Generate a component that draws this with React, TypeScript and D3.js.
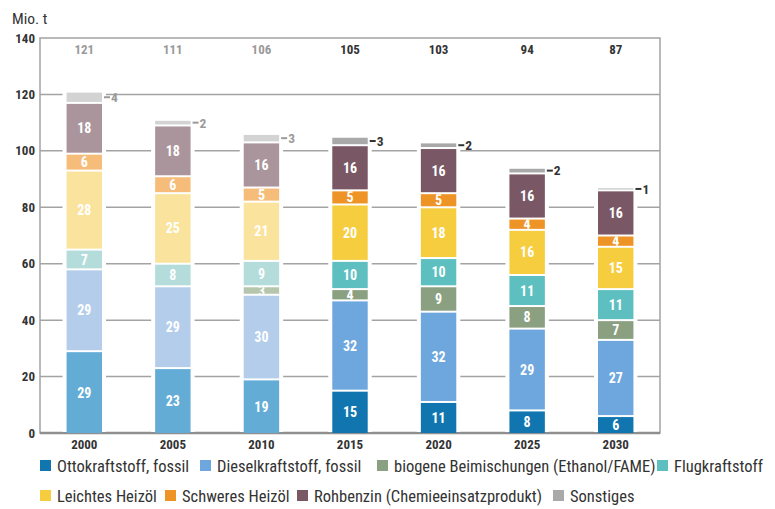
import React, { useEffect, useRef } from 'react';
import * as d3 from 'd3';

const YEARS = ['2000', '2005', '2010', '2015', '2020', '2025', '2030'];
// first three years are historic values (drawn faded)
const HISTORIC = [true, true, true, false, false, false, false];

const SERIES = [
  'Ottokraftstoff, fossil',
  'Dieselkraftstoff, fossil',
  'biogene Beimischungen (Ethanol/FAME)',
  'Flugkraftstoff',
  'Leichtes Heizöl',
  'Schweres Heizöl',
  'Rohbenzin (Chemieeinsatzprodukt)',
  'Sonstiges',
];

const OTTO = [29, 23, 19, 15, 11, 8, 6];
const DIESEL = [29, 29, 30, 32, 32, 29, 27];
const BIO = [0, 0, 3, 4, 9, 8, 7];
const FLUG = [7, 8, 9, 10, 10, 11, 11];
const LEICHT = [28, 25, 21, 20, 18, 16, 15];
const SCHWER = [6, 6, 5, 5, 5, 4, 4];
const ROHBENZIN = [18, 18, 16, 16, 16, 16, 16];
const SONSTIGES = [4, 2, 3, 3, 2, 2, 1];
const TOTALS = [121, 111, 106, 105, 103, 94, 87];

const Y_TICKS = [0, 20, 40, 60, 80, 100, 120, 140];

const COLORS = ['#1176b0', '#6ea7de', '#8aa080', '#5ebfc0', '#f6cd3e', '#ee9426', '#7a5765', '#a9a9a9'];
const COLORS_FADED = ['#62acd6', '#b4cdeb', '#b6c6ad', '#b3dcdb', '#fae39c', '#f6bd7a', '#ab959c', '#d3d3d3'];

// legend rows: series index + left edge of the swatch
const LEGEND_ROWS = [
  [[0, 40], [1, 200], [2, 377], [3, 657]],
  [[4, 40], [5, 165], [6, 297], [7, 553]],
];

const FONT = '"Liberation Sans Narrow", "Arial Narrow", "Roboto Condensed", Roboto, sans-serif';

export default function App() {
  const svgRef = useRef<SVGSVGElement>(null);
  const W = 775, H = 509;
  const L = 40, R = 660, T = 38, B = 433;

  useEffect(() => {
    const svg = d3.select(svgRef.current);
    svg.selectAll('*').remove();
    svg.attr('font-family', FONT);

    const seriesVals = [OTTO, DIESEL, BIO, FLUG, LEICHT, SCHWER, ROHBENZIN, SONSTIGES];
    const rows = YEARS.map((yr, i) => {
      const r: any = { year: yr, i };
      SERIES.forEach((s, k) => { r[s] = seriesVals[k][i]; });
      return r;
    });
    const stacked = d3.stack().keys(SERIES)(rows);

    const x = d3.scaleBand().domain(YEARS).range([L, R]).paddingInner(0.6).paddingOuter(0.3);
    const y = d3.scaleLinear().domain([0, 140]).range([B, T]);
    const bw = x.bandwidth();

    // unit label
    svg.append('text').attr('x', 12).attr('y', 24).attr('font-size', 15.5).attr('fill', '#333').text('Mio. t');

    // Grid
    svg.append('g').selectAll('line').data(Y_TICKS.filter(t => t > 0 && t < 140)).join('line')
      .attr('x1', L).attr('x2', R).attr('y1', d => y(d)).attr('y2', d => y(d))
      .attr('stroke', '#a3a3a3').attr('stroke-width', 1.5);
    // Frame
    svg.append('rect').attr('x', L).attr('y', T).attr('width', R - L).attr('height', B - T)
      .attr('fill', 'none').attr('stroke', '#a3a3a3').attr('stroke-width', 1.5);
    svg.append('line').attr('x1', L).attr('x2', R).attr('y1', B).attr('y2', B)
      .attr('stroke', '#8f8f8f').attr('stroke-width', 2.5);

    // Y labels
    svg.append('g').selectAll('text').data(Y_TICKS).join('text')
      .attr('x', 35).attr('y', d => y(d)).attr('dy', '0.35em').attr('text-anchor', 'end')
      .attr('font-size', 13).attr('font-weight', 'bold').attr('fill', '#333').text(d => d);

    // X labels
    svg.append('g').selectAll('text').data(YEARS).join('text')
      .attr('x', d => (x(d) as number) + bw / 2).attr('y', 449).attr('text-anchor', 'middle')
      .attr('font-size', 13).attr('font-weight', 'bold').attr('fill', '#333').text(d => d);

    // White knockout behind bars so gridlines stop short of them
    svg.append('g').selectAll('rect').data(YEARS).join('rect')
      .attr('x', d => (x(d) as number) - 4).attr('width', bw + 8)
      .attr('y', (d, i) => y(TOTALS[i]) - 2).attr('height', (d, i) => B - y(TOTALS[i]) + 1)
      .attr('fill', '#fff');

    const defs = svg.append('defs');
    const bars = svg.append('g');
    stacked.forEach((layer, k) => {
      layer.forEach((seg, i) => {
        const v = seg[1] - seg[0];
        if (v <= 0) return;
        const x0 = x(YEARS[i]) as number;
        const yTop = y(seg[1]) + 1;
        const h = Math.max(0, y(seg[0]) - y(seg[1]) - (k === 0 ? 1 : 2));
        const fill = HISTORIC[i] ? COLORS_FADED[k] : COLORS[k];
        bars.append('rect').attr('x', x0).attr('y', yTop).attr('width', bw).attr('height', h).attr('fill', fill);
        if (k < SERIES.length - 1) {
          const id = `clip-${k}-${i}`;
          defs.append('clipPath').attr('id', id).append('rect')
            .attr('x', x0).attr('y', yTop).attr('width', bw).attr('height', h);
          bars.append('text').attr('clip-path', `url(#${id})`)
            .attr('x', x0 + bw / 2).attr('y', yTop + h / 2).attr('dy', '0.36em')
            .attr('text-anchor', 'middle').attr('font-size', 14).attr('font-weight', 'bold')
            .attr('fill', '#fff').text(v);
        }
      });
    });

    // Sonstiges callouts
    const top = stacked[stacked.length - 1];
    top.forEach((seg, i) => {
      const x1 = (x(YEARS[i]) as number) + bw;
      const yc = (y(seg[0]) + y(seg[1])) / 2;
      const c = HISTORIC[i] ? '#9a9a9a' : '#333';
      svg.append('line').attr('x1', x1 + 2).attr('x2', x1 + 8).attr('y1', yc).attr('y2', yc)
        .attr('stroke', c).attr('stroke-width', 2);
      svg.append('text').attr('x', x1 + 9).attr('y', yc).attr('dy', '0.36em')
        .attr('font-size', 13.5).attr('font-weight', 'bold').attr('fill', c).text(SONSTIGES[i]);
    });

    // Totals
    svg.append('g').selectAll('text').data(TOTALS).join('text')
      .attr('x', (d, i) => (x(YEARS[i]) as number) + bw / 2).attr('y', T + 11).attr('dy', '0.36em')
      .attr('text-anchor', 'middle').attr('font-size', 13).attr('font-weight', 'bold')
      .attr('fill', (d, i) => (HISTORIC[i] ? '#9a9a9a' : '#333')).text(d => d);

    // Legend
    const legendY = [466, 496];
    LEGEND_ROWS.forEach((row, r) => {
      row.forEach(([k, lx]) => {
        svg.append('rect').attr('x', lx).attr('y', legendY[r] - 6).attr('width', 11).attr('height', 11)
          .attr('fill', COLORS[k]);
        svg.append('text').attr('x', lx + 17).attr('y', legendY[r]).attr('dy', '0.36em')
          .attr('font-size', 16.5).attr('fill', '#333').text(SERIES[k]);
      });
    });
  }, []);

  return (
    <svg ref={svgRef} width={W} height={H} viewBox={`0 0 ${W} ${H}`}
      style={{ position: 'absolute', left: 0, top: 0, background: '#fff' }} />
  );
}
